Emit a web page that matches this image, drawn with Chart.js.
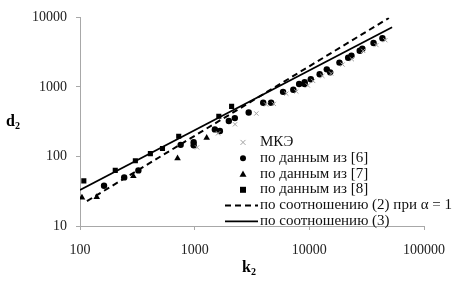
<!DOCTYPE html>
<html>
<head>
<meta charset="utf-8">
<script src="https://cdn.jsdelivr.net/npm/chart.js@4/dist/chart.umd.min.js"></script>
<style>
  body { margin: 0; background: #fff; }
</style>
</head>
<body>
<canvas id="chart" width="460" height="283"></canvas>
<script>
// values (k2 on x, d2 on y)
const xTicks = [100, 1000, 10000, 100000];
const yTicks = [10, 100, 1000, 10000];

// МКЭ (grey crosses)
const mkeK = [1050, 1600, 2250, 3450, 4200, 4900, 6300, 7700, 9700, 10800, 13000, 15500, 19500, 23500, 29500, 38500, 46000];
const mkeD = [135, 215, 290, 415, 560, 570, 800, 860, 1050, 1220, 1440, 1560, 2100, 2500, 3300, 4000, 4700];

// по данным из [6] (circles)
const d6K = [162, 243, 323, 755, 980, 980, 1500, 1660, 1985, 2240, 2960, 3960, 4640, 5900, 7250, 8150, 9100, 9100, 10300, 12300, 14200, 15200, 18300, 21800, 23300, 27500, 29000, 36300, 43400];
const d6D = [38, 50, 63, 147, 160, 145, 245, 232, 323, 356, 428, 593, 593, 850, 910, 1100, 1170, 1100, 1290, 1520, 1790, 1620, 2240, 2630, 2820, 3310, 3550, 4280, 5010];

// по данным из [7] (triangles)
const d7K = [104, 140, 292, 709, 1273];
const d7D = [25.7, 26, 52, 94, 185];

// по данным из [8] (squares)
const d8K = [108, 203, 304, 411, 524, 726, 1624, 2100];
const d8D = [44.5, 63, 87, 110, 130, 195, 378, 525];

// line end points, relation (2) with alpha = 1 and relation (3)
const eq2K = [115, 49400];
const eq2D = [22.8, 9800];
const eq3K = [100, 52700];
const eq3D = [33, 7200];

const labels = ["МКЭ", "по данным из [6]", "по данным из [7]", "по данным из [8]",
                "по соотношению (2) при α = 1", "по соотношению (3)"];

const serif = "'Liberation Serif', 'Times New Roman', serif";

function pts(xs, ys) {
  return xs.map((x, i) => ({ x: x, y: ys[i] }));
}

function marker(ctx, style, x, y, color) {
  ctx.save();
  ctx.fillStyle = color;
  ctx.strokeStyle = color;
  ctx.lineWidth = 1;
  ctx.beginPath();
  if (style === 'circle') {
    ctx.arc(x, y, 3, 0, Math.PI * 2);
    ctx.fill();
  } else if (style === 'triangle') {
    ctx.moveTo(x, y - 3.5);
    ctx.lineTo(x + 3.5, y + 2.8);
    ctx.lineTo(x - 3.5, y + 2.8);
    ctx.closePath();
    ctx.fill();
  } else if (style === 'rect') {
    ctx.rect(x - 3, y - 3, 6, 6);
    ctx.fill();
  } else if (style === 'crossRot') {
    ctx.moveTo(x - 2.5, y - 2.5); ctx.lineTo(x + 2.5, y + 2.5);
    ctx.moveTo(x + 2.5, y - 2.5); ctx.lineTo(x - 2.5, y + 2.5);
    ctx.stroke();
  }
  ctx.restore();
}

// legend and subscripted axis titles drawn inside the plot
const legendInside = {
  id: 'legendInside',
  afterDraw(chart) {
    const ctx = chart.ctx;
    const a = chart.chartArea;
    const mx = a.left + 163, tx = a.left + 180;
    ctx.save();
    ctx.font = '14px ' + serif;
    ctx.textBaseline = 'middle';
    ctx.fillStyle = '#111';
    const widest = ctx.measureText(labels[4]).width;
    const sx = 192 / widest;
    chart.data.datasets.forEach((ds, i) => {
      const y = a.top + 125 + i * 15.8;
      if (ds.showLine) {
        ctx.save();
        ctx.strokeStyle = '#000';
        ctx.lineWidth = ds.borderWidth;
        ctx.setLineDash(ds.borderDash || []);
        ctx.beginPath();
        ctx.moveTo(a.left + 145, y);
        ctx.lineTo(a.left + 178, y);
        ctx.stroke();
        ctx.restore();
      } else {
        marker(ctx, ds.pointStyle, mx, y, ds.pointBackgroundColor);
      }
      ctx.save();
      ctx.translate(tx, y);
      ctx.scale(sx, 1);
      ctx.fillText(labels[i], 0, 0);
      ctx.restore();
    });

    // axis titles with subscripts
    ctx.textBaseline = 'alphabetic';
    ctx.fillStyle = '#000';
    ctx.font = 'bold 16px ' + serif;
    ctx.fillText('d', 6, 126);
    ctx.fillText('k', 242, 272);
    ctx.font = 'bold 10px ' + serif;
    ctx.fillText('2', 15, 129);
    ctx.fillText('2', 251, 275);
    ctx.restore();
  }
};

const axisColor = '#a8a8a8';

new Chart(document.getElementById('chart'), {
  type: 'scatter',
  data: {
    datasets: [{
      label: labels[0],
      data: pts(mkeK, mkeD),
      pointStyle: 'crossRot',
      pointRadius: 3,
      pointBorderWidth: 1,
      pointBorderColor: '#a0a0a0',
      pointBackgroundColor: '#a0a0a0'
    }, {
      label: labels[1],
      data: pts(d6K, d6D),
      pointStyle: 'circle',
      pointRadius: 3.2,
      pointBorderWidth: 0,
      pointBackgroundColor: '#000'
    }, {
      label: labels[2],
      data: pts(d7K, d7D),
      pointStyle: 'triangle',
      pointRadius: 3.8,
      pointBorderWidth: 0,
      pointBackgroundColor: '#000'
    }, {
      label: labels[3],
      data: pts(d8K, d8D),
      pointStyle: 'rect',
      pointRadius: 3.6,
      pointBorderWidth: 0,
      pointBackgroundColor: '#000'
    }, {
      label: labels[4],
      data: pts(eq2K, eq2D),
      showLine: true,
      borderColor: '#000',
      borderWidth: 2,
      borderDash: [6, 4],
      pointRadius: 0
    }, {
      label: labels[5],
      data: pts(eq3K, eq3D),
      showLine: true,
      borderColor: '#000',
      borderWidth: 1.8,
      pointRadius: 0
    }]
  },
  options: {
    responsive: false,
    animation: false,
    layout: { padding: { left: 0, top: 12, right: 36, bottom: 0 } },
    plugins: {
      legend: { display: false },
      tooltip: { enabled: false }
    },
    scales: {
      x: {
        type: 'logarithmic',
        min: 100,
        max: 100000,
        afterBuildTicks: s => { s.ticks = xTicks.map(v => ({ value: v })); },
        afterFit: s => { s.height = 57; },
        ticks: {
          callback: v => String(v),
          font: { family: serif, size: 14 },
          color: '#222',
          padding: 12,
          maxRotation: 0,
          autoSkip: false
        },
        grid: { drawOnChartArea: false, tickLength: 4, color: axisColor },
        border: { color: axisColor }
      },
      y: {
        type: 'logarithmic',
        min: 10,
        max: 10000,
        afterBuildTicks: s => { s.ticks = yTicks.map(v => ({ value: v })); },
        afterFit: s => { s.width = 80; },
        ticks: {
          callback: v => String(v),
          font: { family: serif, size: 14 },
          color: '#222',
          padding: 9,
          autoSkip: false
        },
        grid: { drawOnChartArea: false, tickLength: 4, color: axisColor },
        border: { color: axisColor }
      }
    }
  },
  plugins: [legendInside]
});
</script>
</body>
</html>
